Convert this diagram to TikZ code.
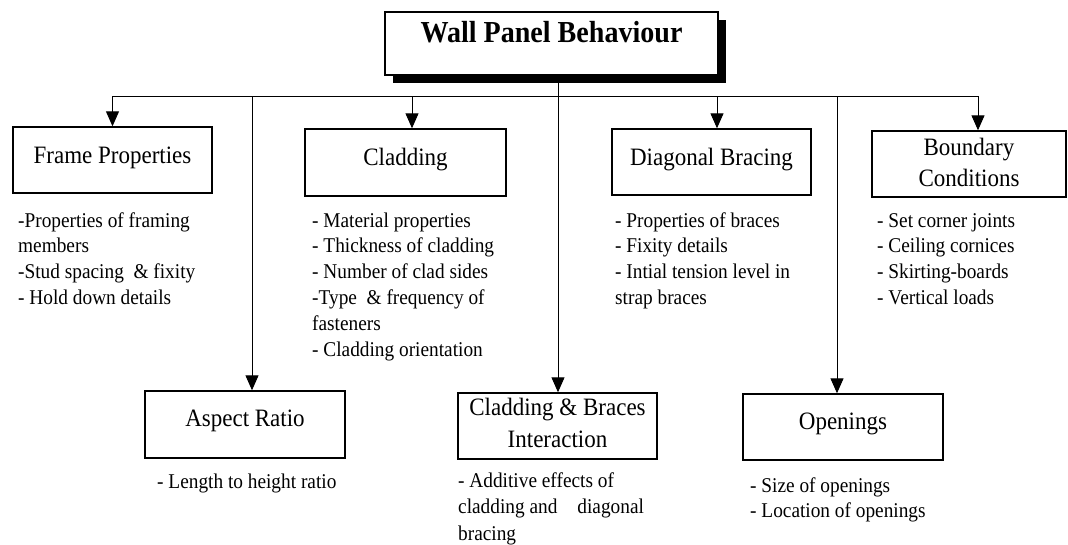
\documentclass[tikz,border=0pt]{standalone}
\usepackage{fontspec}
\setmainfont{Liberation Serif}[FakeStretch=0.92]
\usetikzlibrary{arrows.meta,shadows}
\begin{document}
\begin{tikzpicture}[x=1pt,y=-1pt,
  box/.style={draw,line width=1.4pt,inner sep=0pt,fill=white},
  conn/.style={line width=1pt},
  arr/.style={line width=1pt,-{Triangle[length=15pt,width=13pt]}},
  lab/.style={font=\fontsize{25}{31}\selectfont,align=center,inner sep=0pt,anchor=base},
  items/.style={font=\fontsize{21}{25.8}\selectfont,align=left,inner sep=0pt,anchor=base west}]
\useasboundingbox (0,0) rectangle (1068,544);
% title
\node[box,line width=2pt,minimum width=333pt,minimum height=63pt,
  drop shadow={shadow xshift=8pt,shadow yshift=-8pt,fill=black,opacity=1}] (title) at (551.5,43.5) {};
\node[lab,font=\fontsize{30.5}{34}\selectfont\bfseries] (titleT) at (551.5,42) {Wall Panel Behaviour};
% boxes
\node[box,minimum width=199pt,minimum height=66pt] (frame) at (112.5,160) {};
\node[box,minimum width=201pt,minimum height=67pt] (cladding) at (405.5,162.5) {};
\node[box,minimum width=199pt,minimum height=66pt] (diag) at (711.5,162) {};
\node[box,minimum width=194pt,minimum height=66pt] (boundary) at (969,164) {};
\node[box,minimum width=200pt,minimum height=67pt] (aspect) at (245,424.5) {};
\node[box,minimum width=199pt,minimum height=66pt] (cb) at (557.5,426) {};
\node[box,minimum width=200pt,minimum height=66pt] (openings) at (843,427) {};
% box labels (multi-line nodes are anchored at the baseline of their last line)
\node[lab] (frameT) at (112.5,163) {Frame Properties};
\node[lab] (claddingT) at (405.5,165) {Cladding};
\node[lab] (diagT) at (711.5,165) {Diagonal Bracing};
\node[lab] (boundaryT) at (969,186) {Boundary\\Conditions};
\node[lab] (aspectT) at (245,426) {Aspect Ratio};
\node[lab,font=\fontsize{25}{32}\selectfont] (cbT) at (557.5,447) {Cladding \& Braces\\Interaction};
\node[lab] (openingsT) at (843,429) {Openings};
% connectors
\coordinate (bus) at (558,96);
\draw[conn] (title.south -| bus) -- (bus);
\draw[conn] (frame.north |- bus) -- ([xshift=9pt]boundary.north |- bus);
\draw[arr] (frame.north |- bus) -- (frame.north);
\draw[arr] ([xshift=6.5pt]cladding.north |- bus) -- ([xshift=6.5pt]cladding.north);
\draw[arr] ([xshift=5.5pt]diag.north |- bus) -- ([xshift=5.5pt]diag.north);
\draw[arr] ([xshift=9pt]boundary.north |- bus) -- ([xshift=9pt]boundary.north);
\draw[arr] ([xshift=7pt]aspect.north |- bus) -- ([xshift=7pt]aspect.north);
\draw[arr] (bus) -- (cb.north -| bus);
\draw[arr] ([xshift=-6pt]openings.north |- bus) -- ([xshift=-6pt]openings.north);
% item lists
\node[items] (frameL) at (18,304.4) {-Properties of framing\\members\\-Stud spacing \ \& fixity\\- Hold down details};
\node[items] (claddingL) at (312,356) {- Material properties\\- Thickness of cladding\\- Number of clad sides\\-Type \ \& frequency of\\fasteners\\- Cladding orientation};
\node[items] (diagL) at (615,304.4) {- Properties of braces\\- Fixity details\\- Intial tension level in\\strap braces};
\node[items] (boundaryL) at (877,304.4) {- Set corner joints\\- Ceiling cornices\\- Skirting-boards\\- Vertical loads};
\node[items] (aspectL) at (157,488) {- Length to height ratio};
\node[items,font=\fontsize{21}{26.5}\selectfont] (cbL) at (458,540) {- Additive effects of\\cladding and\hspace{20pt}diagonal\\bracing};
\node[items] (openingsL) at (750,517.8) {- Size of openings\\- Location of openings};
\end{tikzpicture}
\end{document}
